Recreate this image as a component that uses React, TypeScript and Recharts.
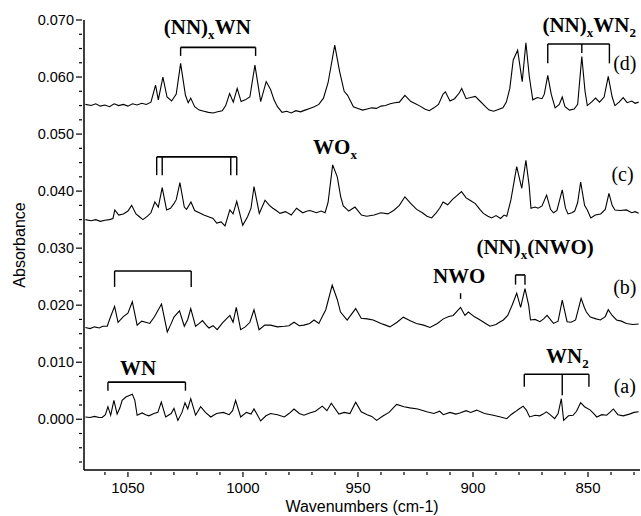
import React from 'react';
import { LineChart, Line, XAxis, YAxis, ReferenceLine, ReferenceDot } from 'recharts';

// spectrum (d)
const WN_D = [1068.5, 1066, 1064, 1062, 1060, 1058, 1056, 1054, 1052, 1050, 1048, 1046, 1044, 1042, 1040, 1038, 1036.8, 1034.8, 1033, 1031, 1029, 1027.1, 1025, 1023.8, 1022.7, 1021, 1019, 1017, 1015, 1013, 1011, 1009, 1007.5, 1005.8, 1004.2, 1002.5, 1000.8, 999, 997, 994.8, 992.3, 989.9, 988, 986.5, 985, 983, 981, 979, 977, 975, 973, 971, 969, 967, 965, 963, 960.1, 958, 956, 954.5, 952, 950, 948, 946, 944, 942, 940, 938, 936, 934, 932, 929.6, 927, 925, 923, 921, 919, 917, 915, 913, 912, 910, 908, 906, 904.9, 903, 901, 899, 897, 895, 893, 891, 889, 887, 885.5, 884, 882.5, 880.6, 878.6, 877, 875.5, 874, 872, 870, 869, 867.5, 866, 864.3, 862.5, 861.2, 860, 858, 856, 854.5, 852.7, 851.3, 850.3, 848.5, 846.7, 845, 843, 841.2, 839.5, 838.3, 836.5, 834.7, 833, 831, 829.5, 828];
const ABS_D = [0.0552, 0.055, 0.0553, 0.0549, 0.0551, 0.0548, 0.0553, 0.055, 0.0552, 0.0549, 0.0553, 0.0551, 0.0554, 0.0552, 0.0556, 0.0586, 0.056, 0.06, 0.0565, 0.0558, 0.057, 0.0624, 0.0568, 0.0555, 0.0563, 0.0548, 0.0542, 0.054, 0.0538, 0.0537, 0.0539, 0.0541, 0.055, 0.0571, 0.0556, 0.058, 0.0557, 0.056, 0.0565, 0.0621, 0.0557, 0.0592, 0.0578, 0.056, 0.0548, 0.0538, 0.054, 0.0537, 0.0541, 0.0539, 0.0542, 0.0545, 0.0548, 0.0552, 0.0563, 0.059, 0.0656, 0.061, 0.0575, 0.0568, 0.0548, 0.0545, 0.0542, 0.0544, 0.0546, 0.0545, 0.0549, 0.055, 0.0553, 0.0555, 0.0556, 0.0568, 0.0557, 0.0553, 0.0549, 0.0544, 0.0541, 0.0546, 0.0552, 0.057, 0.0574, 0.0558, 0.0562, 0.0572, 0.058, 0.0562, 0.0564, 0.0566, 0.0558, 0.055, 0.0542, 0.054, 0.0543, 0.0546, 0.0556, 0.058, 0.063, 0.0647, 0.0592, 0.066, 0.06, 0.056, 0.0564, 0.0562, 0.057, 0.0603, 0.057, 0.0546, 0.0552, 0.0565, 0.0548, 0.0542, 0.0544, 0.0552, 0.0636, 0.0575, 0.055, 0.0556, 0.0563, 0.0556, 0.0565, 0.0601, 0.0565, 0.055, 0.0556, 0.0564, 0.0555, 0.0558, 0.0554, 0.0556];

// spectrum (c)
const WN_C = [1068.5, 1066, 1064, 1062, 1060, 1058, 1056.5, 1055.7, 1054, 1052, 1050, 1048.4, 1046.5, 1045, 1043.5, 1041.5, 1040, 1038.3, 1036.8, 1035.1, 1033.2, 1031.5, 1030, 1029, 1027.4, 1025.5, 1024.5, 1022.6, 1021, 1019, 1017, 1015, 1013, 1011.4, 1009.5, 1007.8, 1005.7, 1004.3, 1002.7, 1000.1, 998, 996.5, 995.2, 992.9, 990.4, 988.5, 987, 985.5, 983.9, 981.5, 979, 976.7, 974, 972, 970.9, 968, 966, 964.3, 963, 961, 959, 957.5, 956.4, 954, 951.3, 948.5, 946.2, 943, 940, 937, 934.5, 932, 929.6, 927, 924.5, 922, 920, 918, 916, 914.5, 913, 911, 909, 907, 905, 903, 901.3, 899, 897, 895.5, 893.5, 891.9, 890, 888, 886.5, 885.3, 883.5, 881, 878.8, 877, 875.6, 874.8, 873, 871.7, 870, 868, 866.3, 865, 863.5, 861.2, 859.8, 858.7, 857, 855.8, 854.5, 853.2, 851.5, 850.3, 848.8, 846.8, 844.5, 842.5, 840.9, 839.5, 838.3, 836, 833.3, 831, 829.5, 828];
const ABS_C = [0.035, 0.0348, 0.035, 0.0347, 0.0349, 0.035, 0.0352, 0.0367, 0.0358, 0.036, 0.0365, 0.0375, 0.036, 0.0355, 0.035, 0.0356, 0.0362, 0.0381, 0.0372, 0.0406, 0.0367, 0.037, 0.0378, 0.0385, 0.0415, 0.0372, 0.0368, 0.0381, 0.0366, 0.0362, 0.0358, 0.0355, 0.0352, 0.0344, 0.0346, 0.0339, 0.0367, 0.036, 0.0382, 0.034, 0.0355, 0.037, 0.0408, 0.0361, 0.0384, 0.0375, 0.037, 0.0366, 0.0361, 0.0364, 0.0358, 0.037, 0.0362, 0.0365, 0.0366, 0.0362, 0.0365, 0.0362, 0.038, 0.0446, 0.0425, 0.039, 0.0374, 0.0365, 0.0372, 0.0358, 0.0356, 0.0358, 0.0362, 0.036, 0.0366, 0.0375, 0.039, 0.0378, 0.0368, 0.0362, 0.0356, 0.0353, 0.0362, 0.037, 0.0381, 0.0376, 0.0385, 0.0392, 0.0399, 0.0388, 0.0384, 0.0378, 0.0368, 0.0361, 0.0356, 0.0353, 0.0357, 0.0352, 0.0358, 0.0356, 0.0385, 0.0443, 0.0405, 0.0454, 0.041, 0.037, 0.0372, 0.037, 0.0374, 0.0393, 0.0368, 0.0362, 0.0366, 0.0402, 0.037, 0.036, 0.0362, 0.0365, 0.038, 0.0416, 0.0375, 0.0367, 0.0353, 0.0358, 0.036, 0.0368, 0.0396, 0.0375, 0.0367, 0.0366, 0.0367, 0.0362, 0.0364, 0.0361];

// spectrum (b)
const WN_B = [1068.5, 1066.5, 1064.5, 1062.5, 1061, 1059, 1057.8, 1055.8, 1054.3, 1052, 1050, 1048.1, 1046, 1044, 1042.3, 1040.5, 1038.4, 1035.4, 1032.9, 1031.5, 1030, 1027.6, 1025.5, 1024, 1022.7, 1020.6, 1019, 1017.6, 1016, 1014.8, 1013, 1011.2, 1008.9, 1005.7, 1004.3, 1002.9, 1001, 999, 997, 995.2, 993, 990.5, 988, 985, 982, 980, 977.8, 975.5, 973.5, 971, 969.1, 967, 965.5, 964, 961.2, 959, 957.6, 954.7, 951, 948.6, 946, 943.4, 940, 938, 936.1, 933, 930.3, 927.5, 924.6, 921.5, 918.7, 915.5, 912.9, 910.5, 908.6, 905.4, 903.5, 902, 899.5, 896.9, 894.5, 892.6, 890, 888.5, 886.8, 884.9, 883, 881, 879.3, 877.4, 875.8, 875, 873, 870.9, 869.3, 867.8, 865, 863, 861.2, 859.1, 857.3, 855.4, 853, 851.5, 850.7, 849, 846.5, 844.6, 842.5, 841.2, 839.5, 837.6, 835.5, 833.3, 830.5, 828];
const ABS_B = [0.0161, 0.0159, 0.0162, 0.016, 0.0163, 0.0163, 0.0177, 0.0198, 0.017, 0.018, 0.0186, 0.0206, 0.0165, 0.0172, 0.017, 0.0168, 0.018, 0.0202, 0.0153, 0.0165, 0.0179, 0.019, 0.0163, 0.0175, 0.0194, 0.0163, 0.0168, 0.0173, 0.0165, 0.016, 0.0164, 0.0157, 0.0169, 0.0182, 0.017, 0.0196, 0.0157, 0.0162, 0.017, 0.0192, 0.0157, 0.0165, 0.0165, 0.0162, 0.0163, 0.0164, 0.017, 0.0164, 0.0165, 0.0168, 0.0174, 0.0168, 0.018, 0.0192, 0.0235, 0.021, 0.0188, 0.0174, 0.0194, 0.0177, 0.0176, 0.0174, 0.0168, 0.0165, 0.0162, 0.017, 0.0179, 0.0173, 0.0168, 0.0165, 0.0161, 0.0168, 0.0176, 0.018, 0.0182, 0.0196, 0.0182, 0.0188, 0.018, 0.0174, 0.0168, 0.0163, 0.0166, 0.017, 0.0174, 0.0182, 0.02, 0.0221, 0.0196, 0.0229, 0.02, 0.0174, 0.0175, 0.0171, 0.0176, 0.0182, 0.0168, 0.0172, 0.0209, 0.0171, 0.017, 0.0174, 0.0212, 0.0195, 0.0188, 0.0179, 0.0176, 0.0174, 0.018, 0.0192, 0.0182, 0.0174, 0.0172, 0.0168, 0.0166, 0.0167];

// spectrum (a)
const WN_A = [1068.5, 1066.5, 1064.5, 1062.5, 1061.2, 1059.8, 1058.7, 1057.5, 1056.1, 1054.7, 1053.5, 1052.5, 1050.9, 1048.1, 1047, 1046, 1043.8, 1042.3, 1040.9, 1038.7, 1037, 1035.5, 1033.6, 1031.2, 1030, 1028.3, 1026.5, 1025.2, 1024, 1022.7, 1020.6, 1018.4, 1016.3, 1014, 1011.5, 1008.5, 1006, 1004.5, 1003.2, 1001, 998.5, 996.5, 995.2, 992.3, 990, 988, 985, 982, 980, 977.8, 975.5, 973.5, 971, 968.5, 965.5, 963.5, 961.6, 958.3, 956, 953.5, 951, 948.6, 946, 944, 941.9, 939, 936.5, 933.2, 930, 927.4, 924, 920.1, 917, 914.5, 912.9, 910, 907.5, 905.7, 903, 901, 898.4, 895, 891.2, 888, 885.3, 883.5, 881.7, 880, 878.2, 876.8, 875.4, 873, 871, 869.5, 868.1, 866.5, 864.5, 863, 861.6, 860.6, 858.5, 856.5, 855, 853.2, 851.5, 849, 847.5, 846.2, 844, 841.9, 840.5, 839, 837, 834.7, 832, 830, 828];
const ABS_A = [0.0004, 0.0003, 0.0005, 0.0003, 0.0003, 0.0008, 0.0022, 0.0007, 0.0033, 0.0009, 0.002, 0.0033, 0.0039, 0.0044, 0.0033, 0.0007, 0.0011, 0.0008, 0.0006, 0.001, 0.0012, 0.003, 0.0004, 0.001, 0.0019, -0.0002, 0.0012, 0.0029, 0.0018, 0.0036, 0.0007, 0.0022, 0.0012, 0.0004, 0.001, 0.0012, 0.0008, 0.0015, 0.0033, 0.0004, 0.0012, 0.0009, 0.0018, -0.0003, 0.0006, 0.001, 0.0008, 0.0004, 0.001, 0.0018, 0.001, 0.0007, 0.0011, 0.0014, 0.0023, 0.0015, 0.0028, 0.0009, 0.0012, 0.001, 0.003, 0.0013, 0.0008, 0.0005, -0.0002, 0.0006, 0.0012, 0.0026, 0.0022, 0.002, 0.0018, 0.0013, 0.001, 0.0014, 0.0008, 0.0012, 0.0009, 0.0011, 0.0015, 0.0012, 0.0016, 0.001, 0.0007, 0.0004, 0.0001, 0.0008, 0.0013, 0.0018, 0.0023, 0.0016, 0.0004, 0.0007, 0.0006, 0.0009, 0.0013, 0.0008, 0.0001, 0.001, 0.0036, -0.0002, 0.0006, 0.0007, 0.0014, 0.0029, 0.0022, 0.0016, 0.001, 0.0004, 0.0008, 0.0007, 0.0012, 0.0018, 0.0008, 0.0006, 0.0009, 0.0012, 0.0013];

const X_TICKS = [1060, 1050, 1040, 1030, 1020, 1010, 1000, 990, 980, 970, 960, 950, 940, 930, 920, 910, 900, 890, 880, 870, 860, 850, 840, 830];
const X_LABELS = [1050, 1000, 950, 900, 850];
const Y_TICKS = [-0.0075, -0.005, -0.0025, 0, 0.0025, 0.005, 0.0075, 0.01, 0.0125, 0.015, 0.0175, 0.02, 0.0225, 0.025, 0.0275, 0.03, 0.0325, 0.035, 0.0375, 0.04, 0.0425, 0.045, 0.0475, 0.05, 0.0525, 0.055, 0.0575, 0.06, 0.0625, 0.065, 0.0675, 0.07];
const Y_LABELS = ['0.000', '0.010', '0.020', '0.030', '0.040', '0.050', '0.060', '0.070'];

// assignment brackets: horizontal bar at `top` from `left` to `right`, drops [wn, bottom]
const BRACKETS = [
  { left: 1027.1, right: 994.5, top: 0.0652, drops: [[1027.1, 0.0637], [994.5, 0.0637]] },
  { left: 867.5, right: 840.7, top: 0.0658, drops: [[867.5, 0.0624], [852.7, 0.0642], [840.7, 0.0624]] },
  { left: 1037.5, right: 1002.7, top: 0.046, drops: [[1037.5, 0.0428], [1035.1, 0.0428], [1005.3, 0.0428], [1002.7, 0.0428]] },
  { left: 1055.8, right: 1022.5, top: 0.026, drops: [[1055.8, 0.0232], [1022.5, 0.0232]] },
  { left: 881.5, right: 877.4, top: 0.0253, drops: [[881.5, 0.0236], [877.4, 0.0236]] },
  { left: 905.4, right: 905.4, top: 0.0221, drops: [[905.4, 0.0211]] },
  { left: 1058.7, right: 1025, top: 0.0065, drops: [[1058.7, 0.005], [1025, 0.005]] },
  { left: 877.7, right: 849.6, top: 0.0079, drops: [[877.7, 0.0057], [861.2, 0.0042], [849.6, 0.0057]] },
];

type Part = { t: string; sub?: boolean };
const LABELS: { wn: number; abs: number; size: number; bold: boolean; parts: Part[] }[] = [
  { wn: 1015.5, abs: 0.0676, size: 21, bold: true, parts: [{ t: '(NN)' }, { t: 'x', sub: true }, { t: 'WN' }] },
  { wn: 849.5, abs: 0.0679, size: 21, bold: true, parts: [{ t: '(NN)' }, { t: 'x', sub: true }, { t: 'WN' }, { t: '2', sub: true }] },
  { wn: 960, abs: 0.0465, size: 21, bold: true, parts: [{ t: 'WO' }, { t: 'x', sub: true }] },
  { wn: 873, abs: 0.0289, size: 21, bold: true, parts: [{ t: '(NN)' }, { t: 'x', sub: true }, { t: '(NWO)' }] },
  { wn: 906, abs: 0.0238, size: 21, bold: true, parts: [{ t: 'NWO' }] },
  { wn: 1045.6, abs: 0.0078, size: 21, bold: true, parts: [{ t: 'WN' }] },
  { wn: 859, abs: 0.0098, size: 21, bold: true, parts: [{ t: 'WN' }, { t: '2', sub: true }] },
  { wn: 834, abs: 0.0612, size: 20, bold: false, parts: [{ t: '(d)' }] },
  { wn: 835, abs: 0.0418, size: 20, bold: false, parts: [{ t: '(c)' }] },
  { wn: 834, abs: 0.0219, size: 20, bold: false, parts: [{ t: '(b)' }] },
  { wn: 834, abs: 0.0046, size: 20, bold: false, parts: [{ t: '(a)' }] },
];

const SERIES = [
  { key: 'd', wn: WN_D, abs: ABS_D },
  { key: 'c', wn: WN_C, abs: ABS_C },
  { key: 'b', wn: WN_B, abs: ABS_B },
  { key: 'a', wn: WN_A, abs: ABS_A },
];

const SANS = 'Liberation Sans, Arial, sans-serif';
const SERIF = 'Liberation Serif, Times New Roman, serif';

function XTick(props: any) {
  const { x, y, payload } = props;
  const major = X_LABELS.includes(payload.value);
  return (
    <g>
      <line x1={x} y1={y} x2={x} y2={y + (major ? 5 : 3)} stroke="#000" strokeWidth={1.2} />
      {major && (
        <text x={x} y={y + 21} textAnchor="middle" fontSize={15} fontFamily={SANS} fill="#000">
          {payload.value}
        </text>
      )}
    </g>
  );
}

function YTick(props: any) {
  const { x, y, payload } = props;
  const label = payload.value.toFixed(3);
  const major = Y_LABELS.includes(label);
  return (
    <g>
      <line x1={x - (major ? 6 : 3)} y1={y} x2={x} y2={y} stroke="#000" strokeWidth={1.2} />
      {major && (
        <text x={x - 8} y={y + 5} textAnchor="end" fontSize={14.5} fontFamily={SANS} fill="#000">
          {label}
        </text>
      )}
    </g>
  );
}

function AnnoText({ cx, cy, parts, size, bold }: any) {
  let shift = 0;
  return (
    <text x={cx} y={cy} textAnchor="middle" fontFamily={SERIF} fontSize={size} fontWeight={bold ? 'bold' : 'normal'} fill="#000">
      {parts.map((p: Part, i: number) => {
        const target = p.sub ? 5 : 0;
        const dy = target - shift;
        shift = target;
        return (
          <tspan key={i} dy={dy} fontSize={p.sub ? size * 0.62 : size}>
            {p.t}
          </tspan>
        );
      })}
    </text>
  );
}

export default function App() {
  return (
    <div style={{ position: 'absolute', left: 0, top: 0, background: '#fff' }}>
      <LineChart width={641} height={516} margin={{ top: 20, right: 1, left: 0, bottom: 0 }}>
        <XAxis
          type="number"
          dataKey="wn"
          domain={[827.4, 1069.1]}
          reversed
          allowDataOverflow
          ticks={X_TICKS}
          interval={0}
          tickSize={0}
          tickLine={false}
          tick={<XTick />}
          height={46}
          axisLine={{ stroke: '#000', strokeWidth: 1.5 }}
          label={{
            content: (p: any) => {
              const vb = p.viewBox;
              return (
                <text x={vb.x + vb.width / 2} y={vb.y + 42} textAnchor="middle" fontSize={16} fontFamily={SANS} fill="#000">
                  Wavenumbers (cm-1)
                </text>
              );
            },
          }}
        />
        <YAxis
          type="number"
          domain={[-0.0089, 0.07]}
          allowDataOverflow
          ticks={Y_TICKS}
          interval={0}
          tickSize={0}
          tickLine={false}
          tick={<YTick />}
          width={84}
          axisLine={{ stroke: '#000', strokeWidth: 1.5 }}
          label={{
            content: (p: any) => {
              const vb = p.viewBox;
              const cx = vb.x + 19;
              const cy = vb.y + vb.height / 2;
              return (
                <text x={cx} y={cy} transform={`rotate(-90 ${cx} ${cy})`} textAnchor="middle" dominantBaseline="central" fontSize={16} fontFamily={SANS} fill="#000">
                  Absorbance
                </text>
              );
            },
          }}
        />
        {SERIES.map((s) => (
          <Line
            key={s.key}
            data={s.wn.map((w, i) => ({ wn: w, abs: s.abs[i] }))}
            dataKey="abs"
            type="linear"
            stroke="#000"
            strokeWidth={1.1}
            dot={false}
            isAnimationActive={false}
          />
        ))}
        {BRACKETS.map((b, i) => (
          <React.Fragment key={`b${i}`}>
            {b.left !== b.right && (
              <ReferenceLine
                segment={[{ x: b.left, y: b.top }, { x: b.right, y: b.top }]}
                stroke="#000"
                strokeWidth={1.6}
                ifOverflow="visible"
              />
            )}
            {b.drops.map((d, j) => (
              <ReferenceLine
                key={`d${i}-${j}`}
                segment={[{ x: d[0], y: b.top }, { x: d[0], y: d[1] }]}
                stroke="#000"
                strokeWidth={1.4}
                ifOverflow="visible"
              />
            ))}
          </React.Fragment>
        ))}
        {LABELS.map((l, i) => (
          <ReferenceDot
            key={`l${i}`}
            x={l.wn}
            y={l.abs}
            r={0}
            ifOverflow="visible"
            shape={(p: any) => <AnnoText cx={p.cx} cy={p.cy} parts={l.parts} size={l.size} bold={l.bold} />}
          />
        ))}
      </LineChart>
    </div>
  );
}
